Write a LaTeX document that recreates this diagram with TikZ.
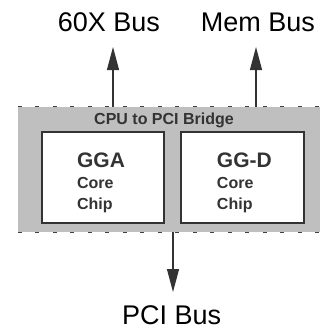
\documentclass[tikz,border=0pt]{standalone}
\usepackage{fontspec}
\setmainfont{Liberation Sans}
\usetikzlibrary{arrows.meta}

\tikzset{
  bridgebox/.style={fill=black!25, minimum width=304pt, minimum height=125pt, inner sep=0pt},
  bridgedash/.style={draw=black!75, line width=1.2pt, dash pattern=on 4pt off 13.5pt},
  chipbox/.style={draw=black!80, line width=1.4pt, fill=white, inner sep=0pt},
  chiplabel/.style={align=left, inner sep=0pt, text=black!80, font=\bfseries\fontsize{16}{21}\selectfont},
  buslabel/.style={inner sep=0pt, anchor=base, font=\fontsize{27}{30}\selectfont},
  busarrow/.style={draw=black!80, line width=1.2pt, -{Triangle[length=23pt,width=12pt]}},
}

\begin{document}
\begin{tikzpicture}[x=1pt,y=-1pt]
\useasboundingbox (0,0) rectangle (320,329);

% the bridge and its two chips
\node[bridgebox] (bridge) at (170,169.5) {};
\draw[bridgedash] (bridge.north west) -- (bridge.north east);
\draw[bridgedash] (bridge.south west) -- (bridge.south east);
\node[text=black!80, inner sep=0pt, font=\bfseries\fontsize{16}{18}\selectfont] (title) at (164,120) {CPU to PCI Bridge};

\node[chipbox, minimum width=122pt, minimum height=91pt] (gga) at (103,177.5) {};
\node[chipbox, minimum width=123pt, minimum height=91pt] (ggd) at (242.5,177.5) {};
\node[chiplabel] (ggatext) at (101,182.5) {{\fontsize{21}{21}\selectfont GGA}\\Core\\Chip};
\node[chiplabel] (ggdtext) at (244.4,182.5) {{\fontsize{21}{21}\selectfont GG-D}\\Core\\Chip};

% buses
\node[buslabel] (bus60) at (109,31.5) {60X Bus};
\node[buslabel] (busmem) at (258,31.5) {Mem Bus};
\node[buslabel] (buspci) at (171.7,324.5) {PCI Bus};

\coordinate (tip60) at (113,47);
\coordinate (tipmem) at (256,47);
\coordinate (tippci) at (173,292);
\draw[busarrow] (tip60 |- bridge.north) -- (tip60);
\draw[busarrow] (tipmem |- bridge.north) -- (tipmem);
\draw[busarrow] (tippci |- bridge.south) -- (tippci);

\end{tikzpicture}
\end{document}
